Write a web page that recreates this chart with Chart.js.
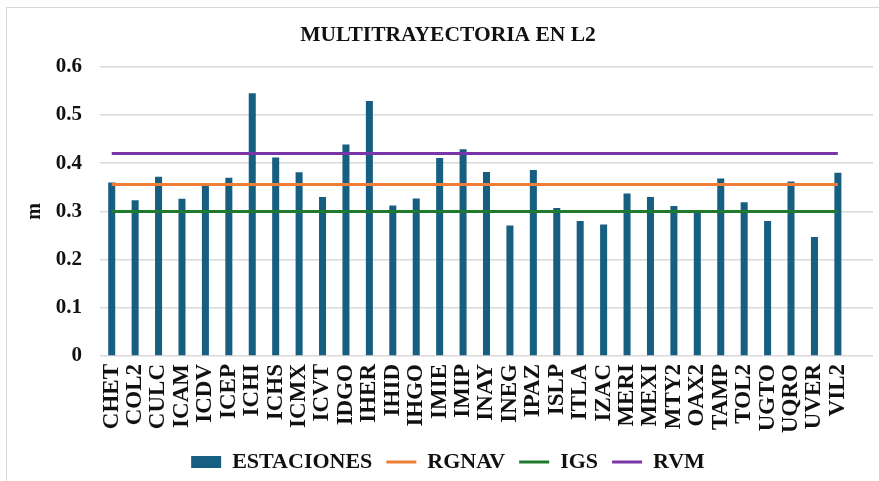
<!DOCTYPE html>
<html>
<head>
<meta charset="utf-8">
<script src="https://cdn.jsdelivr.net/npm/chart.js@4/dist/chart.umd.min.js"></script>
<style>
  html, body { margin: 0; padding: 0; background: #fff; }
  #wrap { position: relative; width: 879px; height: 481px; overflow: hidden; }
  #frame { position: absolute; left: 6px; top: 7px; width: 900px; height: 500px; border: 1px solid #d9d9d9; box-sizing: border-box; }
  canvas { position: absolute; left: 0; top: 0; }
</style>
</head>
<body>
<div id="wrap">
  <div id="frame"></div>
  <canvas id="c" width="879" height="481"></canvas>
</div>
<script>
const stations = ['CHET','COL2','CULC','ICAM','ICDV','ICEP','ICHI','ICHS','ICMX','ICVT','IDGO','IHER','IHID','IHGO','IMIE','IMIP','INAY','INEG','IPAZ','ISLP','ITLA','IZAC','MERI','MEXI','MTY2','OAX2','TAMP','TOL2','UGTO','UQRO','UVER','VIL2'];
const estaciones = [0.360,0.323,0.372,0.326,0.354,0.370,0.545,0.412,0.381,0.330,0.439,0.529,0.312,0.327,0.411,0.429,0.382,0.271,0.386,0.307,0.280,0.273,0.337,0.330,0.311,0.301,0.368,0.319,0.280,0.362,0.247,0.380];
const rgnavLevel = 0.356;
const igsLevel = 0.300;
const rvmLevel = 0.420;
const yTicks = [0, 0.1, 0.2, 0.3, 0.4, 0.5, 0.6];

const labels = stations.concat(['']);
const rgnav = stations.map(() => rgnavLevel);
const igs = stations.map(() => igsLevel);
const rvm = stations.map(() => rvmLevel);

const serif = '"Liberation Serif", "Times New Roman", serif';
Chart.defaults.font.family = serif;
Chart.defaults.color = '#111';

new Chart(document.getElementById('c'), {
  data: {
    labels: labels,
    datasets: [
      { type: 'bar', label: 'ESTACIONES', data: estaciones, backgroundColor: '#175f80', borderWidth: 0,
        categoryPercentage: 1, barPercentage: 0.3, order: 1, pointStyle: 'rect' },
      { type: 'line', label: 'RGNAV', data: rgnav, borderColor: '#ee7d37', backgroundColor: '#ee7d37', borderWidth: 3,
        pointRadius: 0, fill: false, order: 0, pointStyle: 'line' },
      { type: 'line', label: 'IGS', data: igs, borderColor: '#1f7a2e', backgroundColor: '#1f7a2e', borderWidth: 3,
        pointRadius: 0, fill: false, order: 0, pointStyle: 'line' },
      { type: 'line', label: 'RVM', data: rvm, borderColor: '#7a35a8', backgroundColor: '#7a35a8', borderWidth: 3,
        pointRadius: 0, fill: false, order: 0, pointStyle: 'line' }
    ]
  },
  options: {
    responsive: false,
    animation: false,
    events: [],
    layout: { padding: { left: 23, right: 6, top: 12, bottom: -2 } },
    plugins: {
      title: { display: true, text: 'MULTITRAYECTORIA EN L2', color: '#111',
        font: { size: 21.5, weight: 'bold', family: serif }, padding: { top: 11, bottom: 18 } },
      legend: { position: 'bottom',
        labels: { usePointStyle: true, pointStyleWidth: 30, boxHeight: 12, padding: 14, color: '#111',
          font: { size: 22, weight: 'bold', family: serif },
          sort: (a, b) => a.datasetIndex - b.datasetIndex } },
      tooltip: { enabled: false }
    },
    scales: {
      x: {
        afterFit: (axis) => { axis.paddingLeft = 0; axis.paddingRight = 0; axis.height -= 4; },
        grid: { display: false, drawTicks: false },
        border: { display: false },
        ticks: { minRotation: 90, maxRotation: 90, autoSkip: false, padding: 8, color: '#111',
          font: { size: 23, weight: 'bold', family: serif } }
      },
      y: {
        min: 0, max: 0.6,
        afterBuildTicks: (axis) => { axis.ticks = yTicks.map(v => ({ value: v })); },
        afterFit: (axis) => { axis.width = 77; },
        grid: { color: '#d9d9d9', lineWidth: 1.5, drawTicks: false },
        border: { display: false },
        ticks: { padding: 18, color: '#111', font: { size: 21, weight: 'bold', family: serif },
          callback: (v) => v === 0 ? '0' : v.toFixed(1) },
        title: { display: true, text: 'm', color: '#111', font: { size: 20, weight: 'bold', family: serif }, padding: 0 }
      }
    }
  }
});
</script>
</body>
</html>
